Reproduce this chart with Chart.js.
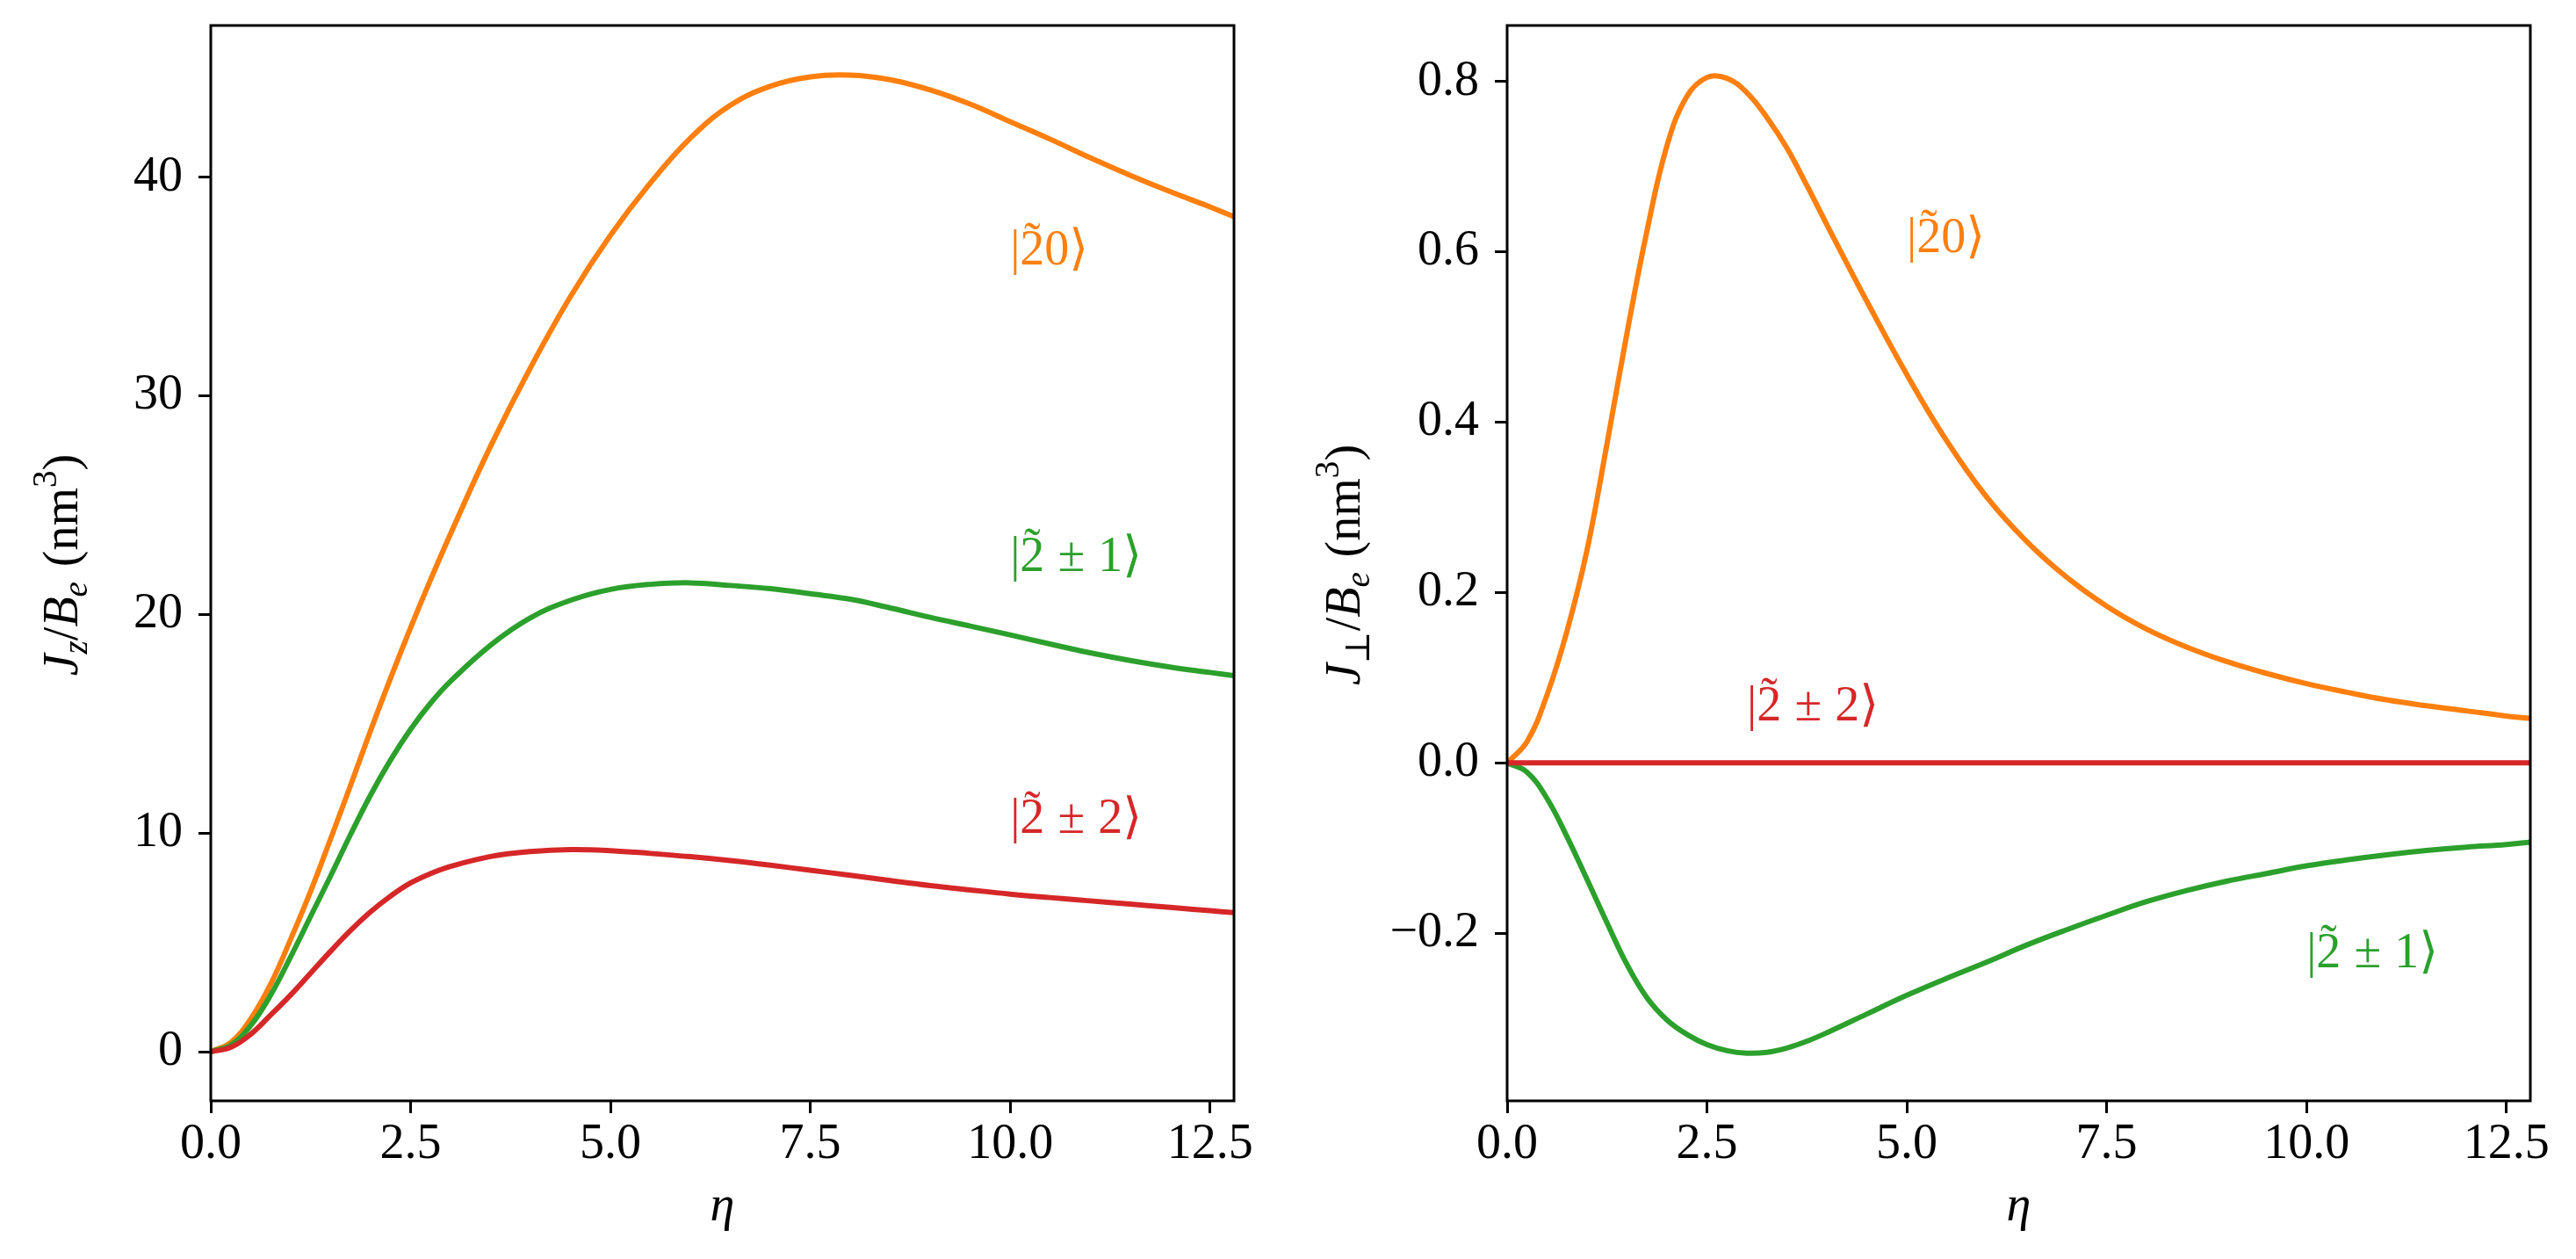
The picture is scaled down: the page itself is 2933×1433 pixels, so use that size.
<!DOCTYPE html>
<html>
<head>
<meta charset="utf-8">
<script src="https://cdn.jsdelivr.net/npm/chart.js@4.4.0/dist/chart.umd.min.js"></script>
<style>
  body { margin: 0; background: #fff; }
  #wrap { position: relative; width: 2933px; height: 1433px; }
  canvas { position: absolute; top: 0; }
</style>
</head>
<body>
<div id="wrap">
  <canvas id="jzChart" width="1450" height="1433" style="left:0"></canvas>
  <canvas id="jpChart" width="1483" height="1433" style="left:1450px"></canvas>
</div>
<script>
// eta samples and J_z / B_e values (left panel)
const etaLeft = [0, 0.25, 0.5, 0.75, 1, 1.25, 1.5, 1.75, 2, 2.25, 2.5, 2.75, 3, 3.5, 4, 4.5, 5, 5.5, 6, 6.5, 7, 7.5, 8, 8.5, 9, 9.5, 10, 10.5, 11, 11.5, 12, 12.5, 12.8];
const jz20 = [0, 0.42, 1.5, 3.1, 5.15, 7.35, 9.75, 12.2, 14.7, 17.1, 19.4, 21.6, 23.7, 27.7, 31.3, 34.55, 37.35, 39.75, 41.8, 43.3, 44.17, 44.6, 44.68, 44.47, 44.0, 43.35, 42.55, 41.75, 40.9, 40.1, 39.35, 38.65, 38.2];
const jz21 = [0, 0.3, 1.2, 2.6, 4.35, 6.2, 8.05, 9.95, 11.75, 13.35, 14.75, 15.95, 16.95, 18.6, 19.85, 20.65, 21.15, 21.38, 21.45, 21.33, 21.18, 20.95, 20.7, 20.3, 19.87, 19.47, 19.07, 18.65, 18.25, 17.9, 17.6, 17.35, 17.2];
const jz22 = [0, 0.2, 0.8, 1.68, 2.6, 3.6, 4.6, 5.55, 6.4, 7.12, 7.72, 8.15, 8.48, 8.93, 9.16, 9.25, 9.2, 9.07, 8.92, 8.74, 8.53, 8.3, 8.07, 7.83, 7.6, 7.4, 7.21, 7.05, 6.9, 6.75, 6.6, 6.45, 6.36];

// eta samples and J_perp / B_e values (right panel)
const etaRight = [0, 0.25, 0.5, 0.75, 1, 1.25, 1.5, 1.75, 2, 2.25, 2.5, 2.75, 3, 3.25, 3.5, 3.75, 4, 4.5, 5, 5.5, 6, 6.5, 7, 7.5, 8, 8.5, 9, 9.5, 10, 10.5, 11, 11.5, 12, 12.5, 12.8];
const jp20 = [0, 0.025, 0.08, 0.155, 0.25, 0.375, 0.505, 0.625, 0.725, 0.783, 0.805, 0.804, 0.787, 0.758, 0.722, 0.678, 0.632, 0.542, 0.456, 0.378, 0.312, 0.26, 0.218, 0.184, 0.157, 0.136, 0.119, 0.105, 0.093, 0.083, 0.074, 0.067, 0.061, 0.055, 0.052];
const jp21 = [0, -0.011, -0.042, -0.087, -0.137, -0.188, -0.237, -0.276, -0.302, -0.319, -0.331, -0.338, -0.341, -0.34, -0.335, -0.327, -0.317, -0.295, -0.273, -0.253, -0.234, -0.214, -0.196, -0.179, -0.163, -0.15, -0.139, -0.13, -0.121, -0.114, -0.108, -0.103, -0.099, -0.096, -0.093];
const jp22 = [0, 0, 0, 0, 0, 0, 0, 0, 0, 0, 0, 0, 0, 0, 0, 0, 0, 0, 0, 0, 0, 0, 0, 0, 0, 0, 0, 0, 0, 0, 0, 0, 0, 0, 0];

const xTicks = [0, 2.5, 5, 7.5, 10, 12.5];
const jzTicks = [0, 10, 20, 30, 40];
const jpTicks = [-0.2, 0, 0.2, 0.4, 0.6, 0.8];

// state labels: [m, eta, value]
const jzLabels = [["0", 10, 36], ["±1", 10, 22], ["±2", 10, 10]];
const jpLabels = [["0", 5, 0.6], ["±2", 3, 0.05], ["±1", 10, -0.24]];

const ORANGE = "#ff7f0e";
const GREEN = "#2ca02c";
const RED = "#d62728";
const stateColor = { "0": ORANGE, "±1": GREEN, "±2": RED };

const FONT = '"Liberation Serif", "DejaVu Serif", serif';
const SIZE = 56;

function segFont(seg, size) {
  const s = seg.sub || seg.sup ? size * 0.7 : size;
  return (seg.it ? "italic " : "") + s + "px " + FONT;
}

function measureRich(ctx, segs, size) {
  let w = 0;
  for (const seg of segs) {
    if (seg.gap) { w += seg.gap * size; continue; }
    ctx.font = segFont(seg, size);
    w += ctx.measureText(seg.t).width;
  }
  return w;
}

function drawRich(ctx, segs, x, y, size, color) {
  ctx.fillStyle = color;
  ctx.textBaseline = "alphabetic";
  let cx = x;
  for (const seg of segs) {
    if (seg.gap) { cx += seg.gap * size; continue; }
    ctx.font = segFont(seg, size);
    ctx.textAlign = "left";
    const w = ctx.measureText(seg.t).width;
    let dy = 0;
    if (seg.sub) dy = 0.2 * size;
    if (seg.sup) dy = -0.42 * size;
    ctx.fillText(seg.t, cx, y + dy);
    if (seg.tilde) {
      ctx.textAlign = "center";
      ctx.fillText("\u02dc", cx + w / 2, y - 0.17 * size);
    }
    cx += w;
  }
}

function stateSegs(m) {
  const segs = [{ t: "|" }, { t: "2", tilde: true }];
  if (m === "0") {
    segs.push({ t: "0" });
  } else {
    segs.push({ gap: 0.27 }, { t: "±" }, { gap: 0.27 }, { t: m.slice(1) });
  }
  segs.push({ t: "\u27e9" });
  return segs;
}

const decor = {
  id: "decor",
  afterDatasetsDraw(chart, args, opts) {
    const { ctx, chartArea: a, scales } = chart;
    ctx.save();
    ctx.strokeStyle = "#000";
    ctx.lineWidth = 3;
    ctx.strokeRect(a.left, a.top, a.right - a.left, a.bottom - a.top);

    for (const [m, ex, ey] of opts.labels) {
      drawRich(ctx, stateSegs(m), scales.x.getPixelForValue(ex), scales.y.getPixelForValue(ey), SIZE, stateColor[m]);
    }

    ctx.fillStyle = "#000";
    ctx.font = "italic " + SIZE + "px " + FONT;
    ctx.textAlign = "center";
    ctx.textBaseline = "alphabetic";
    ctx.fillText("η", (a.left + a.right) / 2, 1389);

    ctx.translate(opts.titleX, 643);
    ctx.rotate(-Math.PI / 2);
    const w = measureRich(ctx, opts.title, SIZE);
    drawRich(ctx, opts.title, -w / 2, 0, SIZE, "#000");
    ctx.restore();
  },
};

function points(xs, ys) {
  return xs.map((x, i) => ({ x, y: ys[i] }));
}

function noPad(s) {
  s.paddingLeft = 0;
  s.paddingRight = 0;
  s.paddingTop = 0;
  s.paddingBottom = 0;
}

function makeChart(id, cfg) {
  return new Chart(document.getElementById(id), {
    type: "line",
    data: {
      datasets: [
        { data: points(cfg.xs, cfg.s0), borderColor: ORANGE, order: 3 },
        { data: points(cfg.xs, cfg.s1), borderColor: GREEN, order: 2 },
        { data: points(cfg.xs, cfg.s2), borderColor: RED, order: 1 },
      ],
    },
    options: {
      animation: false,
      responsive: false,
      devicePixelRatio: 1,
      layout: { padding: { left: 0, top: 29, right: cfg.padRight, bottom: 0 } },
      elements: {
        point: { radius: 0 },
        line: { borderWidth: 6, tension: 0.4, fill: false },
      },
      plugins: {
        legend: { display: false },
        tooltip: { enabled: false },
        decor: { labels: cfg.labels, title: cfg.title, titleX: cfg.titleX },
      },
      scales: {
        x: {
          type: "linear",
          min: 0,
          max: 12.8,
          afterBuildTicks: (s) => { s.ticks = xTicks.map((v) => ({ value: v })); },
          afterFit: (s) => { s.height = 180; noPad(s); },
          border: { display: false },
          grid: { drawOnChartArea: false, drawTicks: true, tickLength: 14, tickWidth: 3, tickColor: "#000" },
          ticks: {
            color: "#000",
            font: { family: FONT, size: SIZE },
            padding: 3,
            maxRotation: 0,
            autoSkip: false,
            callback: (v) => v.toFixed(1),
          },
        },
        y: {
          type: "linear",
          min: cfg.yMin,
          max: cfg.yMax,
          afterBuildTicks: (s) => { s.ticks = cfg.yTicks.map((v) => ({ value: v })); },
          afterFit: (s) => { s.width = cfg.axisWidth; noPad(s); },
          border: { display: false },
          grid: { drawOnChartArea: false, drawTicks: true, tickLength: 14, tickWidth: 3, tickColor: "#000" },
          ticks: {
            color: "#000",
            font: { family: FONT, size: SIZE },
            padding: 18,
            autoSkip: false,
            callback: cfg.fmt,
          },
        },
      },
    },
    plugins: [decor],
  });
}

makeChart("jzChart", {
  xs: etaLeft, s0: jz20, s1: jz21, s2: jz22,
  yMin: -2.25, yMax: 46.95, yTicks: jzTicks,
  fmt: (v) => String(v),
  labels: jzLabels,
  axisWidth: 240, padRight: 45, titleX: 88,
  title: [{ t: "J", it: true }, { t: "z", it: true, sub: true }, { t: "/" }, { t: "B", it: true }, { t: "e", it: true, sub: true },
          { gap: 0.3 }, { t: "(nm" }, { t: "3", sup: true }, { t: ")" }],
});

makeChart("jpChart", {
  xs: etaRight, s0: jp20, s1: jp21, s2: jp22,
  yMin: -0.397, yMax: 0.866, yTicks: jpTicks,
  fmt: (v) => v.toFixed(1).replace("-", "\u2212"),
  labels: jpLabels,
  axisWidth: 266, padRight: 52, titleX: 98,
  title: [{ t: "J", it: true }, { t: "⊥", sub: true }, { t: "/" }, { t: "B", it: true }, { t: "e", it: true, sub: true },
          { gap: 0.3 }, { t: "(nm" }, { t: "3", sup: true }, { t: ")" }],
});
</script>
</body>
</html>
